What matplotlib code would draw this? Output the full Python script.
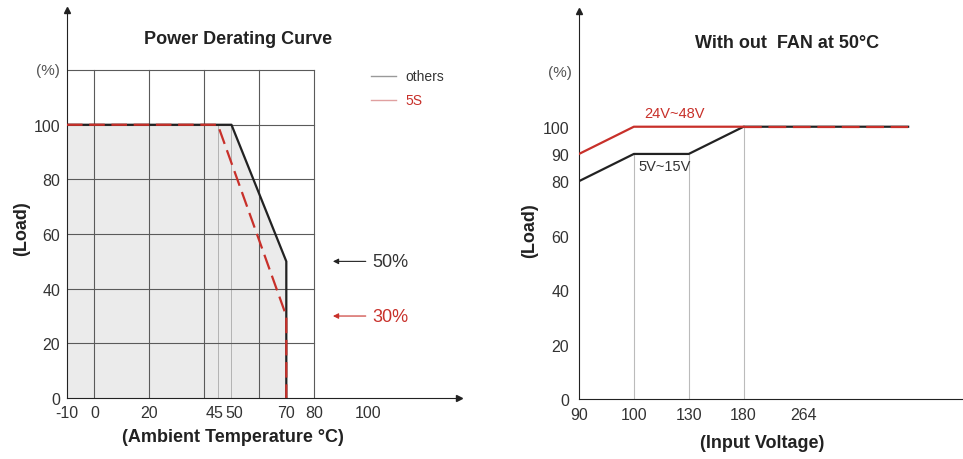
import numpy as np
import matplotlib
matplotlib.use("Agg")
import matplotlib.pyplot as plt
import matplotlib.transforms as mtransforms

plt.rcParams['font.family'] = ['Liberation Sans', 'DejaVu Sans']

# ---- left chart: power derating curve ----
temp_others = [-10, 50, 70, 70]
load_others = [100, 100, 50, 0]
temp_5s = [-10, 45, 70, 70]
load_5s = [100, 100, 30, 0]
temp_ticks = [-10, 0, 20, 45, 50, 70, 80, 100]
temp_ticklabels = ['-10', '0', '20', '45', '50', '70', '80', '100']
temp_grid = [0, 20, 40, 60, 80]
temp_light = [45, 50]
load_grid = [20, 40, 60, 80, 100, 120]
load_ticks = [0, 20, 40, 60, 80, 100]

# ---- right chart: input voltage ----
volt_24_48 = [90, 100, 180, 300]
load_24_48 = [90, 100, 100, 100]
volt_5_15 = [90, 100, 130, 180, 300]
load_5_15 = [80, 90, 90, 100, 100]
volt_ticks = [90, 100, 130, 180, 264]
volt_vlines = [100, 130, 180]
volt_vline_tops = [90, 90, 100]
load_ticks_r = [0, 20, 40, 60, 80, 90, 100]

BLACK = '#222222'
RED = '#c8302a'
GRID = '#5a5a5a'
TXT = '#333333'

fig = plt.figure(figsize=(9.63, 4.6), dpi=100)

# left axes placed so -10..133 / 0..142 maps to the drawn frame
ax1 = fig.add_axes([67/963, 61/460, 392/963, 388/460])
ax1.set_xlim(-10, 133)
ax1.set_ylim(0, 142)

ax1.fill_between(temp_others[:3], load_others[:3], 0, color='#ebebeb', zorder=0)
for t in temp_grid:
    ax1.plot([t, t], [0, 120], color=GRID, lw=0.8, zorder=1)
for t in temp_light:
    ax1.plot([t, t], [0, 100], color='#aaaaaa', lw=0.6, zorder=1)
for l in load_grid:
    ax1.plot([-10, 80], [l, l], color=GRID, lw=0.8, zorder=1)

ax1.plot(temp_others, load_others, color=BLACK, lw=1.6, zorder=3)
ax1.plot(temp_5s, load_5s, color=RED, lw=1.6, dashes=(7, 3), zorder=4)

# legend (drawn by hand as in the reference)
ax1.plot([101, 110], [118, 118], color='#999999', lw=1)
ax1.text(113.4, 118, 'others', color=TXT, fontsize=10, va='center')
ax1.plot([101, 110], [109, 109], color='#e0a0a0', lw=1)
ax1.text(113.4, 109, '5S', color=RED, fontsize=10, va='center')

ax1.annotate('', xy=(86, 50), xytext=(100, 50),
             arrowprops=dict(arrowstyle='-|>', color=BLACK, lw=0.8, mutation_scale=8))
ax1.text(101.5, 50, '50%', color=TXT, fontsize=13, va='center')
ax1.annotate('', xy=(86, 30), xytext=(100, 30),
             arrowprops=dict(arrowstyle='-|>', color=RED, lw=0.8, mutation_scale=8))
ax1.text(101.5, 30, '30%', color=RED, fontsize=13, va='center')

ax1.text(52.5, 131.5, 'Power Derating Curve', ha='center', va='center',
         fontsize=13, fontweight='bold', color=BLACK)
ax1.text(-0.049, 120, '(%)', ha='center', va='center', fontsize=11, color='#555555',
         transform=ax1.get_yaxis_transform())

ax1.set_xticks(temp_ticks)
ax1.set_xticklabels(temp_ticklabels)
ax1.set_yticks(load_ticks)
ax1.tick_params(length=0, labelsize=11.5, colors=TXT)
ax1.tick_params(axis='x', pad=5)
ax1.tick_params(axis='y', pad=5)
for lbl in ax1.get_xticklabels():
    if lbl.get_text() == '45':
        lbl.set_transform(lbl.get_transform() + mtransforms.ScaledTranslation(-3/100, 0, fig.dpi_scale_trans))
    if lbl.get_text() == '50':
        lbl.set_transform(lbl.get_transform() + mtransforms.ScaledTranslation(3/100, 0, fig.dpi_scale_trans))
ax1.set_xlabel('(Ambient Temperature °C)', fontsize=13, fontweight='bold', color=BLACK, va='center')
ax1.xaxis.set_label_coords(0.423, -0.10)
ax1.set_ylabel('(Load)', fontsize=13, fontweight='bold', color=BLACK, va='center')
ax1.yaxis.set_label_coords(-0.115, 0.438)

for s in ['top', 'right']:
    ax1.spines[s].set_visible(False)
for s in ['left', 'bottom']:
    ax1.spines[s].set_color(BLACK)
    ax1.spines[s].set_linewidth(0.8)
ax1.plot(1, 0, '>', color=BLACK, ms=4, transform=ax1.transAxes, clip_on=False)
ax1.plot(0, 1, '^', color=BLACK, ms=4, transform=ax1.transAxes, clip_on=False)

# right axes with a piecewise voltage scale as drawn in the reference
knots_v = [90, 100, 130, 180, 264, 300, 320]
knots_p = [0, 1, 2, 3, 4.1, 6, 7]
def fwd(v):
    return np.interp(v, knots_v, knots_p)
def inv(p):
    return np.interp(p, knots_p, knots_v)

ax2 = fig.add_axes([579/963, 60/460, 384/963, 388/460])
ax2.set_xscale('function', functions=(fwd, inv))
ax2.set_xlim(90, 320)
ax2.set_ylim(0, 142.5)

for v, top in zip(volt_vlines, volt_vline_tops):
    ax2.plot([v, v], [0, top], color='#bbbbbb', lw=0.8, zorder=1)
ax2.plot(volt_5_15, load_5_15, color=BLACK, lw=1.6, zorder=3)
ax2.plot(volt_24_48[:3], load_24_48[:3], color=RED, lw=1.6, zorder=4)
ax2.plot(volt_24_48[2:], load_24_48[2:], color=RED, lw=1.6, dashes=(8, 3), zorder=5)

ax2.text(122, 102.5, '24V~48V', color=RED, fontsize=10.5, ha='center', va='bottom')
ax2.text(117, 85.5, '5V~15V', color=TXT, fontsize=10.5, ha='center', va='center')
ax2.text(241, 131, 'With out  FAN at 50°C', ha='center', va='center',
         fontsize=13, fontweight='bold', color=BLACK)
ax2.text(-0.049, 120, '(%)', ha='center', va='center', fontsize=11, color='#555555',
         transform=ax2.get_yaxis_transform())

ax2.set_xticks(volt_ticks)
ax2.set_xticklabels([str(v) for v in volt_ticks])
ax2.set_yticks(load_ticks_r)
ax2.tick_params(length=0, labelsize=11.5, colors=TXT)
ax2.tick_params(axis='x', pad=6)
ax2.tick_params(axis='y', pad=7)
ax2.set_xlabel('(Input Voltage)', fontsize=13, fontweight='bold', color=BLACK, va='center')
ax2.xaxis.set_label_coords(0.477, -0.113)
ax2.set_ylabel('(Load)', fontsize=13, fontweight='bold', color=BLACK, va='center')
ax2.yaxis.set_label_coords(-0.128, 0.436)
for s in ['top', 'right']:
    ax2.spines[s].set_visible(False)
for s in ['left', 'bottom']:
    ax2.spines[s].set_color(BLACK)
    ax2.spines[s].set_linewidth(0.8)
ax2.plot(0, 1, '^', color=BLACK, ms=4, transform=ax2.transAxes, clip_on=False)

fig.savefig('out.png', dpi=100, facecolor='white')
